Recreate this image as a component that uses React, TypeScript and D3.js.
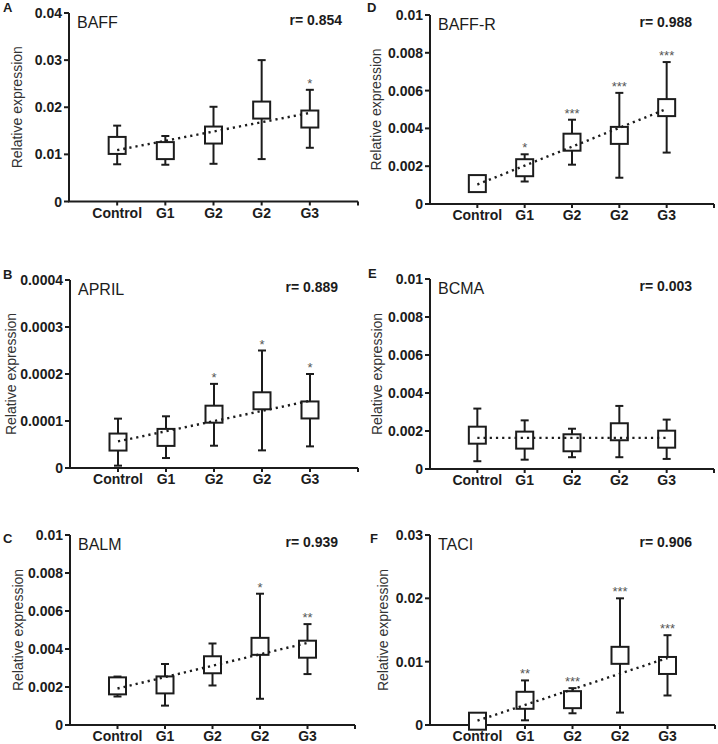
import React from "react";
import * as d3 from "d3";

// ---------- data ----------
const categories = ["Control", "G1", "G2", "G2", "G3"];

const baffMean = [0.0119, 0.0108, 0.0141, 0.0194, 0.0175];
const baffHigh = [0.0161, 0.0139, 0.0201, 0.03, 0.0237];
const baffLow = [0.0079, 0.0078, 0.008, 0.009, 0.0114];
const baffTrend = [0.0109, 0.0188];
const baffStars = ["", "", "", "", "*"];
const baffTicks = [0, 0.01, 0.02, 0.03, 0.04];
const baffTickLabels = ["0", "0.01", "0.02", "0.03", "0.04"];

const aprilMean = [0.0000552, 0.0000651, 0.0001145, 0.000143, 0.0001235];
const aprilHigh = [0.000105, 0.00011, 0.000179, 0.00025, 0.0002];
const aprilLow = [0.000005, 0.0000212, 0.0000474, 0.0000375, 0.000046];
const aprilTrend = [0.0000566, 0.000143];
const aprilStars = ["", "", "*", "*", "*"];
const aprilTicks = [0, 0.0001, 0.0002, 0.0003, 0.0004];
const aprilTickLabels = ["0", "0.0001", "0.0002", "0.0003", "0.0004"];

const balmMean = [0.00206, 0.00211, 0.00317, 0.00414, 0.00399];
const balmHigh = [0.00255, 0.00321, 0.00429, 0.00691, 0.00531];
const balmLow = [0.0015, 0.00102, 0.00208, 0.00138, 0.00268];
const balmTrend = [0.00192, 0.00432];
const balmStars = ["", "", "", "*", "**"];

const baffrMean = [0.00108, 0.00192, 0.00327, 0.00363, 0.0051];
const baffrHigh = [0.00108, 0.00263, 0.00446, 0.00588, 0.00751];
const baffrLow = [0.00108, 0.00119, 0.00208, 0.00139, 0.00272];
const baffrTrend = [0.00103, 0.00503];
const baffrStars = ["", "*", "***", "***", "***"];

const bcmaMean = [0.00178, 0.00152, 0.00138, 0.00196, 0.00157];
const bcmaHigh = [0.00318, 0.00256, 0.00212, 0.00332, 0.0026];
const bcmaLow = [0.00041, 0.00049, 0.00062, 0.00062, 0.00053];
const bcmaTrend = [0.00164, 0.00164];
const bcmaStars = ["", "", "", "", ""];

const taciMean = [0.0006, 0.0039, 0.004, 0.011, 0.0094];
const taciHigh = [0.0006, 0.00704, 0.00582, 0.02, 0.01418];
const taciLow = [0.0006, 0.00074, 0.00185, 0.00196, 0.00466];
const taciTrend = [0.00069, 0.01058];
const taciStars = ["", "**", "***", "***", "***"];
const taciTicks = [0, 0.01, 0.02, 0.03];
const taciTickLabels = ["0", "0.01", "0.02", "0.03"];

const smallTicks = [0, 0.002, 0.004, 0.006, 0.008, 0.01];
const smallTickLabels = ["0", "0.002", "0.004", "0.006", "0.008", "0.01"];

const panelLetters = ["A", "B", "C", "D", "E", "F"];
const panelTitles = ["BAFF", "APRIL", "BALM", "BAFF-R", "BCMA", "TACI"];
const rValues = ["r= 0.854", "r= 0.889", "r= 0.939", "r= 0.988", "r= 0.003", "r= 0.906"];

// ---------- layout (positions only) ----------
const layouts = [
  { ax: 69, x1: 358, top: 13, bottom: 201.5, ylabX: 22, lx: 3, ly: 12, rEnd: 342 },
  { ax: 70, x1: 358, top: 280, bottom: 468, ylabX: 16, lx: 3, ly: 279, rEnd: 338 },
  { ax: 70, x1: 355, top: 535, bottom: 725, ylabX: 23, lx: 3, ly: 543, rEnd: 338 },
  { ax: 430, x1: 714, top: 15, bottom: 204, ylabX: 381, lx: 367, ly: 12, rEnd: 692 },
  { ax: 430, x1: 714, top: 279, bottom: 469, ylabX: 382, lx: 368, ly: 278, rEnd: 692 },
  { ax: 430, x1: 715, top: 535, bottom: 725, ylabX: 388, lx: 370, ly: 543, rEnd: 692 },
];

const panels = [
  { mean: baffMean, high: baffHigh, low: baffLow, trend: baffTrend, stars: baffStars, ticks: baffTicks, tickLabels: baffTickLabels },
  { mean: aprilMean, high: aprilHigh, low: aprilLow, trend: aprilTrend, stars: aprilStars, ticks: aprilTicks, tickLabels: aprilTickLabels },
  { mean: balmMean, high: balmHigh, low: balmLow, trend: balmTrend, stars: balmStars, ticks: smallTicks, tickLabels: smallTickLabels },
  { mean: baffrMean, high: baffrHigh, low: baffrLow, trend: baffrTrend, stars: baffrStars, ticks: smallTicks, tickLabels: smallTickLabels },
  { mean: bcmaMean, high: bcmaHigh, low: bcmaLow, trend: bcmaTrend, stars: bcmaStars, ticks: smallTicks, tickLabels: smallTickLabels },
  { mean: taciMean, high: taciHigh, low: taciLow, trend: taciTrend, stars: taciStars, ticks: taciTicks, tickLabels: taciTickLabels },
];

const FONT = "'Liberation Sans', Arial, Helvetica, sans-serif";
const INK = "#1c1c1c";
const SQ = 17;
const CAP = 8;

function Panel({ idx }: { idx: number }) {
  const L = layouts[idx];
  const P = panels[idx];
  const x = d3.scaleLinear().domain([0, 6]).range([L.ax, L.x1]);
  const y = d3
    .scaleLinear()
    .domain([0, P.ticks[P.ticks.length - 1]])
    .range([L.bottom, L.top]);
  const trendLine = d3
    .line<[number, number]>()
    .x((d) => x(d[0]))
    .y((d) => y(d[1]));
  const trendPts: [number, number][] = [
    [1, P.trend[0]],
    [5, P.trend[1]],
  ];
  const cy = (L.top + L.bottom) / 2;
  return (
    <g>
      {/* panel letter */}
      <text x={L.lx} y={L.ly} fontSize={13} fontWeight="bold" fill={INK} fontFamily={FONT}>
        {panelLetters[idx]}
      </text>
      {/* y axis */}
      <line x1={L.ax} x2={L.ax} y1={L.top} y2={L.bottom} stroke={INK} strokeWidth={2} />
      {P.ticks.map((t, i) => (
        <g key={"yt" + i}>
          <line x1={L.ax - 5} x2={L.ax} y1={y(t)} y2={y(t)} stroke={INK} strokeWidth={2} />
          <text
            x={L.ax - 7}
            y={y(t)}
            dy="0.36em"
            textAnchor="end"
            fontSize={14}
            fontWeight="bold"
            fill={INK}
            fontFamily={FONT}
          >
            {P.tickLabels[i]}
          </text>
        </g>
      ))}
      <text
        transform={`translate(${L.ylabX},${cy}) rotate(-90)`}
        textAnchor="middle"
        fontSize={14}
        fill="#333"
        fontFamily={FONT}
      >
        Relative expression
      </text>
      {/* x axis */}
      <line x1={L.ax - 1} x2={L.x1} y1={L.bottom} y2={L.bottom} stroke={INK} strokeWidth={2} />
      {[1, 2, 3, 4, 5, 6].map((p) => (
        <line key={"xt" + p} x1={x(p)} x2={x(p)} y1={L.bottom} y2={L.bottom + 4} stroke={INK} strokeWidth={2} />
      ))}
      {categories.map((c, i) => (
        <text
          key={"xl" + i}
          x={x(i + 1)}
          y={L.bottom + 16}
          textAnchor="middle"
          fontSize={14}
          fontWeight="bold"
          fill={INK}
          fontFamily={FONT}
        >
          {c}
        </text>
      ))}
      {/* title and r */}
      <text x={L.ax + 8} y={L.top + 15} fontSize={16} fill={INK} fontFamily={FONT}>
        {panelTitles[idx]}
      </text>
      <text x={L.rEnd} y={L.top + 12} textAnchor="end" fontSize={14} fontWeight="bold" fill={INK} fontFamily={FONT}>
        {rValues[idx]}
      </text>
      {/* error bars */}
      {P.mean.map((m, i) => {
        const cx = x(i + 1);
        return (
          <g key={"eb" + i}>
            <line x1={cx} x2={cx} y1={y(P.high[i])} y2={y(P.low[i])} stroke={INK} strokeWidth={2} />
            <line x1={cx - CAP / 2} x2={cx + CAP / 2} y1={y(P.high[i])} y2={y(P.high[i])} stroke={INK} strokeWidth={2} />
            <line x1={cx - CAP / 2} x2={cx + CAP / 2} y1={y(P.low[i])} y2={y(P.low[i])} stroke={INK} strokeWidth={2} />
          </g>
        );
      })}
      {/* square markers */}
      {P.mean.map((m, i) => (
        <rect
          key={"sq" + i}
          x={x(i + 1) - SQ / 2}
          y={y(m) - SQ / 2}
          width={SQ}
          height={SQ}
          fill="white"
          stroke={INK}
          strokeWidth={2}
        />
      ))}
      {/* trend */}
      <path
        d={trendLine(trendPts) || ""}
        fill="none"
        stroke={INK}
        strokeWidth={2.4}
        strokeDasharray="2.2 4"
      />
      {/* stars */}
      {P.stars.map((s, i) =>
        s ? (
          <text
            key={"st" + i}
            x={x(i + 1)}
            y={y(P.high[i]) - 2}
            textAnchor="middle"
            fontSize={13}
            fill="#555"
            fontFamily={FONT}
          >
            {s}
          </text>
        ) : null
      )}
    </g>
  );
}

export default function App() {
  return (
    <svg
      width={718}
      height={744}
      viewBox="0 0 718 744"
      style={{ position: "absolute", left: 0, top: 0, background: "white" }}
    >
      <rect x={0} y={0} width={718} height={744} fill="white" />
      {panels.map((_, i) => (
        <Panel key={i} idx={i} />
      ))}
    </svg>
  );
}
